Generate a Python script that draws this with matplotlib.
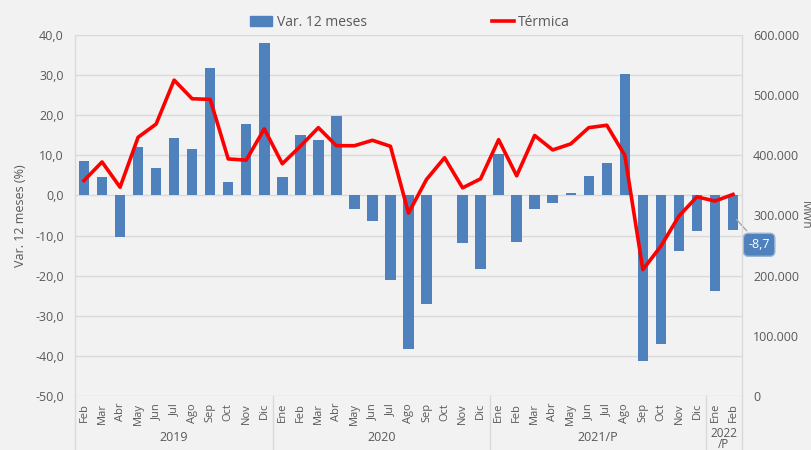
# ── Térmica vs Var. 12 meses ─────────────────────────────────────────────────

import numpy as np
import matplotlib.pyplot as plt
from matplotlib.ticker import FuncFormatter
from matplotlib.patches import Patch
from matplotlib.lines import Line2D


# ── Data ──────────────────────────────────────────────────────────────────────

months = ["Feb", "Mar", "Abr", "May", "Jun", "Jul", "Ago", "Sep", "Oct", "Nov", "Dic",
          "Ene", "Feb", "Mar", "Abr", "May", "Jun", "Jul", "Ago", "Sep", "Oct", "Nov", "Dic",
          "Ene", "Feb", "Mar", "Abr", "May", "Jun", "Jul", "Ago", "Sep", "Oct", "Nov", "Dic",
          "Ene", "Feb"]

years       = ["2019", "2020", "2021/P", "2022\n/P"]
year_counts = [11, 12, 12, 2]

var_12m = [8.5, 4.6, -10.4, 12.1, 6.8, 14.2, 11.6, 31.7, 3.3, 17.9, 38.1,
           4.5, 15.0, 13.8, 19.7, -3.3, -6.3, -21.0, -38.2, -27.0, 0.2, -11.9, -18.4,
           10.4, -11.5, -3.3, -1.9, 0.5, 4.8, 8.1, 30.4, -41.2, -37.1, -13.8, -8.9,
           -23.7, -8.7]

termica = [358, 389, 347, 430, 452, 525, 494, 493, 394, 392, 444,
           386, 415, 446, 416, 416, 425, 415, 304, 360, 396, 346, 361,
           426, 366, 433, 409, 419, 446, 450, 400, 210, 249, 299, 331,
           324, 335]   # thousands of MWh


# ── Style ─────────────────────────────────────────────────────────────────────

BG      = "#F2F2F2"
BLUE    = "#4F81BD"
RED     = "#FF0000"
GRID    = "#D9D9D9"
TXT     = "#595959"

plt.rcParams["font.family"] = ["Open Sans", "DejaVu Sans"]

W, H = 812, 450
fig = plt.figure(figsize=(W / 100, H / 100), dpi=100, facecolor=BG)
L, R, T, B = 75, 742, 35, 396
ax = fig.add_axes([L / W, 1 - B / H, (R - L) / W, (B - T) / H], facecolor=BG)
ax2 = ax.twinx()

x = np.arange(len(months))

# ── Bars (left axis) ──────────────────────────────────────────────────────────

ax.bar(x, var_12m, width=0.58, color=BLUE, zorder=2)
ax.set_ylim(-50, 40)
ax.set_yticks(np.arange(-50, 41, 10))
ax.yaxis.set_major_formatter(FuncFormatter(lambda v, p: f"{v:.1f}".replace(".", ",")))
ax.grid(axis="y", color=GRID, linewidth=1, zorder=0)
ax.set_axisbelow(True)
ax.set_xlim(-0.5, len(months) - 0.5)
ax.set_xticks(x)
ax.set_xticklabels(months, rotation=90, fontsize=8, color=TXT)
ax.tick_params(axis="x", length=0, pad=5)
ax.tick_params(axis="y", length=0, labelsize=9, labelcolor=TXT, pad=8)
ax.set_ylabel("Var. 12 meses (%)", fontsize=9, color=TXT, labelpad=6)

# ── Line (right axis) ─────────────────────────────────────────────────────────

ax2.plot(x, termica, color=RED, linewidth=2.6, zorder=3)
ax2.set_ylim(0, 600)
ax2.set_yticks(np.arange(0, 601, 100))
ax2.yaxis.set_major_formatter(FuncFormatter(lambda v, p: "0" if v == 0 else f"{int(v)}.000"))
ax2.tick_params(axis="y", length=0, labelsize=9, labelcolor=TXT, pad=8)
ax2.set_ylabel("MWh", fontsize=8.5, color=TXT, rotation=270, va="center")
ax2.yaxis.set_label_coords(1 + 63 / (R - L), 0.5)

for a in (ax, ax2):
    for s in ("top", "bottom"):
        a.spines[s].set_visible(False)
    a.spines["left"].set_color(GRID)
    a.spines["right"].set_color(GRID)

# ── Year groups below the axis ────────────────────────────────────────────────

trans = ax.get_xaxis_transform()
edges = np.concatenate([[0], np.cumsum(year_counts)]) - 0.5
for e in edges:
    ax.plot([e, e], [0, -0.16], color=GRID, linewidth=1, transform=trans, clip_on=False)
for i, yr in enumerate(years):
    mid = (edges[i] + edges[i + 1]) / 2
    two_lines = "\n" in yr
    ax.text(mid, -0.086 if two_lines else -0.097, yr, transform=trans,
            ha="center", va="top", fontsize=8.5 if two_lines else 9,
            color=TXT, linespacing=0.8)

# ── Data label for the last bar ───────────────────────────────────────────────

ax.annotate("-8,7", xy=(36.1, -5.5), xytext=(37.45, -12.3),
            ha="center", va="center", fontsize=9, color="white",
            bbox=dict(boxstyle="round,pad=0.4", fc=BLUE, ec="#9DB6D8", lw=1),
            arrowprops=dict(arrowstyle="-", color="#A6A6A6", lw=1),
            annotation_clip=False, zorder=5)

# ── Legend ────────────────────────────────────────────────────────────────────

handles = [Patch(color=BLUE), Line2D([], [], color=RED, linewidth=2.6)]
fig.legend(handles, ["Var. 12 meses", "Térmica"], loc="center",
           bbox_to_anchor=(0.505, 1 - 22 / H), ncol=2, frameon=False,
           fontsize=10, labelcolor=TXT, columnspacing=9, handlelength=1.6,
           handletextpad=0.3)

fig.savefig("out.png", dpi=100, facecolor=BG)
